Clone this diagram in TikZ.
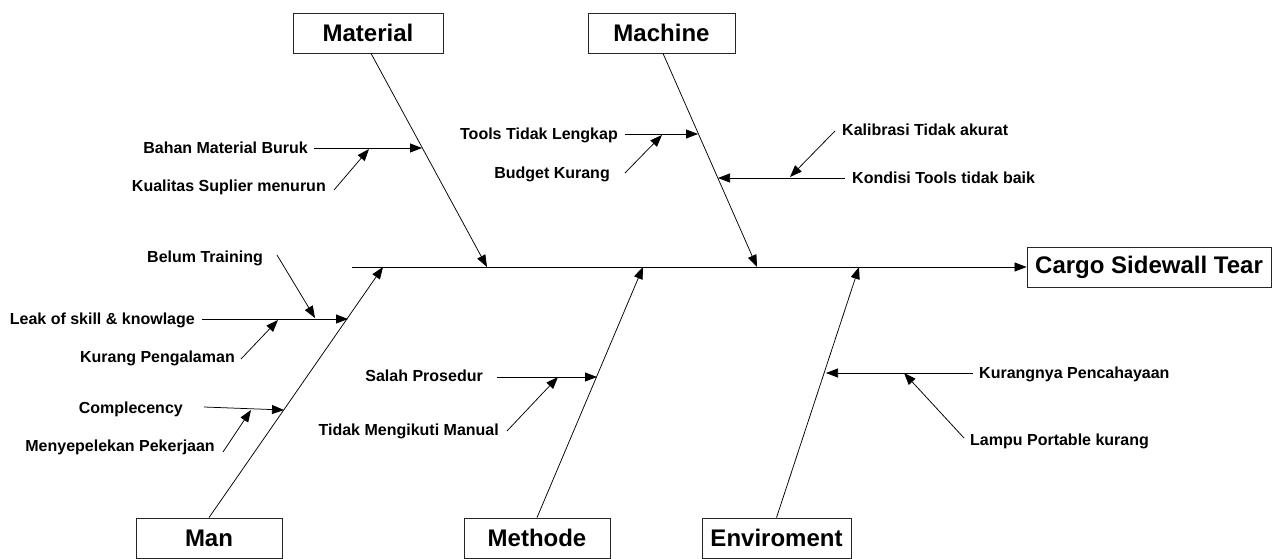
\documentclass[tikz,border=0pt]{standalone}
\usepackage{fontspec}
\setmainfont{Liberation Sans}
\usetikzlibrary{arrows.meta}
\begin{document}
\begin{tikzpicture}[x=1pt,y=-1pt,
  box/.style={draw=black!85, line width=0.8pt, minimum height=40pt, inner sep=0pt, font=\fontsize{24}{28}\selectfont\bfseries},
  lbl/.style={inner sep=0pt, text height=11.5pt, text depth=0pt, font=\fontsize{16}{18}\selectfont\bfseries},
  arr/.style={line width=0.75pt, -{Triangle[length=12pt,width=9pt]}}]
\useasboundingbox (0,0) rectangle (1274,559);
% category boxes
\node[box, minimum width=150pt] (mat) at (368,33) {Material};
\node[box, minimum width=147pt] (mac) at (661.5,33) {Machine};
\node[box, minimum width=146pt] (man) at (209,538) {Man};
\node[box, minimum width=146pt] (met) at (537,538) {Methode};
\node[box, minimum width=149pt] (env) at (776.5,538) {Enviroment};
\node[box, minimum width=244pt] (eff) at (1149,267) {Cargo Sidewall Tear};
% spine
\coordinate (sp0) at (352,267);
\draw[arr] (sp0) -- (eff.west);
% bone ends on spine
\coordinate (matE) at (487,267);
\coordinate (macE) at (757,267);
\coordinate (manE) at (383,267);
\coordinate (metE) at (643,267);
\coordinate (envE) at (859,267);
\draw[arr] ([xshift=3pt]mat.south) -- (matE);
\draw[arr] ([xshift=1.5pt]mac.south) -- (macE);
\draw[arr] (man.north) -- (manE);
\draw[arr] (met.north) -- (metE);
\draw[arr] (env.north) -- (envE);
% points on bones / sub-bones
\coordinate (mA) at (422,148);
\coordinate (mB) at (369,149);
\coordinate (cA) at (698,134);
\coordinate (cB) at (662,135);
\coordinate (cC) at (718,178);
\coordinate (cD) at (790,177);
\coordinate (nA) at (348,319);
\coordinate (nB) at (315,318);
\coordinate (nC) at (278,320);
\coordinate (nD) at (284,410);
\coordinate (nE) at (251,410);
\coordinate (tA) at (597,377);
\coordinate (tB) at (558,377);
\coordinate (eA) at (826,373);
\coordinate (eB) at (904,373);
% Material
\node[lbl, anchor=east] (l1) at (308,148) {Bahan Material Buruk};
\draw[arr] ([xshift=6pt]l1.east) -- (mA);
\node[lbl, anchor=east] (l2) at (326,186) {Kualitas Suplier menurun};
\draw[arr] ([shift={(8,4)}]l2.east) -- (mB);
% Machine
\node[lbl, anchor=east] (l3) at (618,134) {Tools Tidak Lengkap};
\draw[arr] ([xshift=7pt]l3.east) -- (cA);
\node[lbl, anchor=east] (l4) at (610,173) {Budget Kurang};
\draw[arr] ([shift={(15,0)}]l4.east) -- (cB);
\node[lbl, anchor=west] (l5) at (842,130) {Kalibrasi Tidak akurat};
\draw[arr] ([shift={(-7,1)}]l5.west) -- (cD);
\node[lbl, anchor=west] (l6) at (852,178) {Kondisi Tools tidak baik};
\draw[arr] ([xshift=-7pt]l6.west) -- (cC);
% Man
\node[lbl, anchor=east] (l7) at (263,257) {Belum Training};
\draw[arr] ([shift={(14,-2)}]l7.east) -- (nB);
\node[lbl, anchor=east] (l8) at (195,319) {Leak of skill \& knowlage};
\draw[arr] ([xshift=7pt]l8.east) -- (nA);
\node[lbl, anchor=east] (l9) at (235,357) {Kurang Pengalaman};
\draw[arr] ([shift={(6,2)}]l9.east) -- (nC);
\node[lbl, anchor=east] (l10) at (183,408) {Complecency};
\draw[arr] ([shift={(21,-1)}]l10.east) -- (nD);
\node[lbl, anchor=east] (l11) at (215,446) {Menyepelekan Pekerjaan};
\draw[arr] ([shift={(8,6)}]l11.east) -- (nE);
% Methode
\node[lbl, anchor=east] (l12) at (483,376) {Salah Prosedur};
\draw[arr] ([shift={(14,1)}]l12.east) -- (tA);
\node[lbl, anchor=east] (l13) at (499,430) {Tidak Mengikuti Manual};
\draw[arr] ([shift={(8,1)}]l13.east) -- (tB);
% Enviroment
\node[lbl, anchor=west] (l14) at (979,373) {Kurangnya Pencahayaan};
\draw[arr] ([xshift=-6pt]l14.west) -- (eA);
\node[lbl, anchor=west] (l15) at (970,440) {Lampu Portable kurang};
\draw[arr] ([shift={(-6,-2)}]l15.west) -- (eB);
\end{tikzpicture}
\end{document}
